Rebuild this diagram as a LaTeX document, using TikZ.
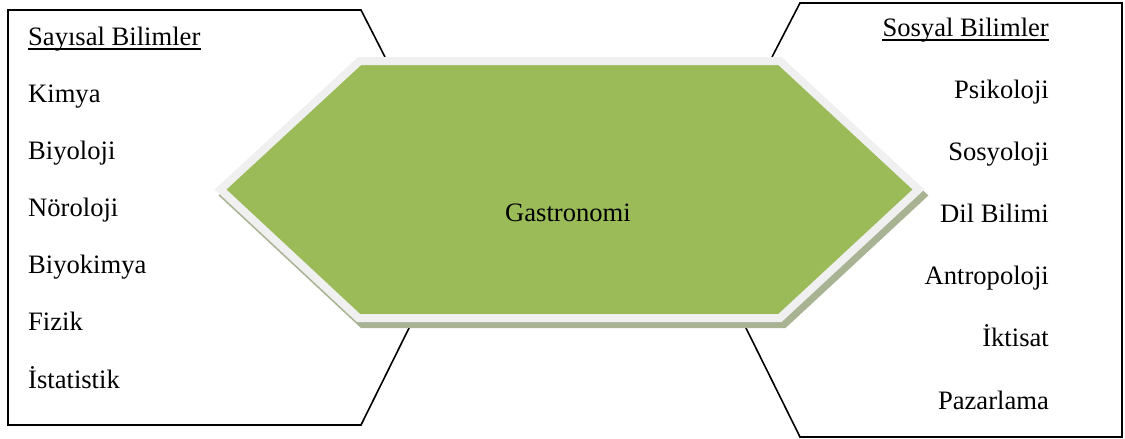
\documentclass[tikz,border=0pt]{standalone}
\usepackage{fontspec}
\setmainfont{Liberation Serif}
\usetikzlibrary{arrows}
\definecolor{hexgreen}{HTML}{9BBB59}
\definecolor{hexrim}{HTML}{F0F0F0}
\definecolor{hexshade}{HTML}{A7B393}

\begin{document}
\begin{tikzpicture}[x=1pt, y=-1pt,
  lbl/.style={inner sep=0pt, font=\fontsize{26.6}{30}\selectfont},
  box/.style={line width=1.6pt, line join=miter}]
\useasboundingbox (0,0) rectangle (1125,439);

\coordinate (h1) at (359.5, 61);
\coordinate (h2) at (780, 61);
\coordinate (h3) at (918.5, 189.5);
\coordinate (h4) at (780, 318);
\coordinate (h5) at (358.5, 318);
\coordinate (h6) at (220.5, 189.5);

\coordinate (tl) at (385, 57);
\coordinate (bl) at (412, 322);
\coordinate (tr) at (772, 57);
\coordinate (br) at (743, 322);

\draw[box] (tl) -- (361, 10) -- (8, 10) -- (8, 425) -- (361, 425) -- (bl);
\draw[box] (tr) -- (800, 3) -- (1122, 3) -- (1122, 437) -- (800, 437) -- (br);

\filldraw[hexshade, line width=8pt, line join=miter, transform canvas={xshift=4pt, yshift=-6pt}] (h1) -- (h2) -- (h3) -- (h4) -- (h5) -- (h6) -- cycle;
\filldraw[fill=hexgreen, draw=hexrim, line width=8pt, line join=miter] (h1) -- (h2) -- (h3) -- (h4) -- (h5) -- (h6) -- cycle;

\node (gas) at (568, 221) [lbl, anchor=base] {Gastronomi};

\node (say) at (28, 45) [lbl, anchor=base west] {Sayısal Bilimler};
\draw[line width=1.5pt] ([yshift=-4pt]say.base west) -- ([yshift=-4pt]say.base east);
\node (kim) at (28, 102.2) [lbl, anchor=base west] {Kimya};
\node (biy) at (28, 159.3) [lbl, anchor=base west] {Biyoloji};
\node (nor) at (28, 216.5) [lbl, anchor=base west] {Nöroloji};
\node (bkm) at (28, 273.7) [lbl, anchor=base west] {Biyokimya};
\node (fiz) at (28, 330.8) [lbl, anchor=base west] {Fizik};
\node (ist) at (28, 388) [lbl, anchor=base west] {İstatistik};

\node (sos) at (1049, 36) [lbl, anchor=base east] {Sosyal Bilimler};
\draw[line width=1.5pt] ([yshift=-4pt]sos.base west) -- ([yshift=-4pt]sos.base east);
\node (psi) at (1049, 98.2) [lbl, anchor=base east] {Psikoloji};
\node (syo) at (1049, 160.3) [lbl, anchor=base east] {Sosyoloji};
\node (dil) at (1049, 222.5) [lbl, anchor=base east] {Dil Bilimi};
\node (ant) at (1049, 284.7) [lbl, anchor=base east] {Antropoloji};
\node (ikt) at (1049, 346.8) [lbl, anchor=base east] {İktisat};
\node (paz) at (1049, 409) [lbl, anchor=base east] {Pazarlama};
\end{tikzpicture}
\end{document}
